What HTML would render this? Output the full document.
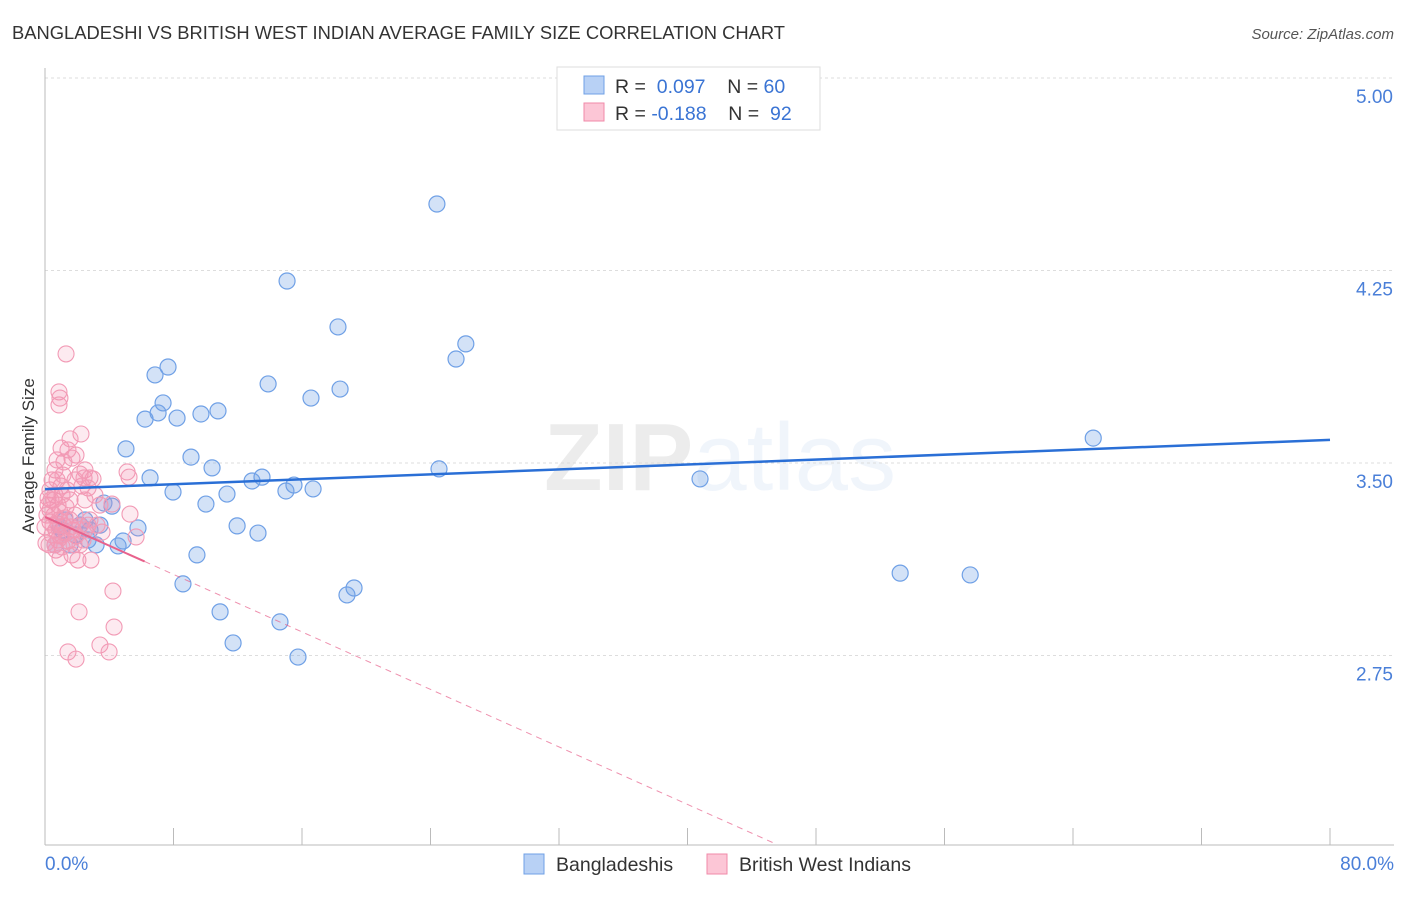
<!DOCTYPE html>
<html><head><meta charset="utf-8"><style>
body{margin:0;background:#fff;font-family:"Liberation Sans",sans-serif;}
svg text{font-family:"Liberation Sans",sans-serif;}
</style></head><body>
<svg id="chart" width="1406" height="892" xmlns="http://www.w3.org/2000/svg">
<text x="12" y="39" font-size="18.3" fill="#333" textLength="773" lengthAdjust="spacingAndGlyphs">BANGLADESHI VS BRITISH WEST INDIAN AVERAGE FAMILY SIZE CORRELATION CHART</text>
<text x="1394" y="39" font-size="15" fill="#555" text-anchor="end" font-style="italic">Source: ZipAtlas.com</text>
<text x="720" y="490" font-size="96" text-anchor="middle" fill="#000" opacity="0.07" font-family="Liberation Serif"><tspan font-weight="bold">ZIP</tspan><tspan font-family="Liberation Sans" fill="#3a7bd5">atlas</tspan></text>
<g id="grid"></g><g id="axes"></g><g id="marks"></g>
<text transform="translate(34,456) rotate(-90)" font-size="17" fill="#333" text-anchor="middle">Average Family Size</text>
<text x="45" y="870" font-size="19" fill="#4a7fd8">0.0%</text>
<text x="1394" y="870" font-size="19" fill="#4a7fd8" text-anchor="end">80.0%</text>
<g>
<rect x="557" y="67" width="263" height="63" fill="#fff" stroke="#ddd"/>
<rect x="584" y="76" width="20" height="18" fill="#b8d1f5" stroke="#6fa0e6"/>
<rect x="584" y="103" width="20" height="18" fill="#fcc6d6" stroke="#f08aa8"/>
<text x="615" y="93" font-size="19.5" fill="#333">R = <tspan fill="#3a74d4">&#160;0.097</tspan>&#160;&#160;&#160; N = <tspan fill="#3a74d4">60</tspan></text>
<text x="615" y="120" font-size="19.5" fill="#333">R = <tspan fill="#3a74d4">-0.188</tspan>&#160;&#160;&#160; N = <tspan fill="#3a74d4">&#160;92</tspan></text>
</g>
<g>
<rect x="524" y="854" width="20" height="20" fill="#b8d1f5" stroke="#6fa0e6"/>
<text x="556" y="871" font-size="19.5" fill="#333">Bangladeshis</text>
<rect x="707" y="854" width="20" height="20" fill="#fcc6d6" stroke="#f08aa8"/>
<text x="739" y="871" font-size="19.5" fill="#333">British West Indians</text>
</g>
</svg>
<script>
const yTicks=[5.00,4.25,3.50,2.75];
const yTickLabels=["5.00","4.25","3.50","2.75"];
const blueX=[24.4,15.07,18.24,26.2,25.59,7.66,6.85,13.89,18.37,16.56,7.35,7.04,10.77,9.71,8.22,6.23,5.04,9.09,10.4,24.53,6.54,13.51,12.89,15.5,15.0,16.69,7.97,11.33,10.02,3.67,4.17,40.78,65.26,53.24,57.6,5.79,11.96,13.26,3.42,2.8,1.25,0.93,1.56,3.18,4.55,4.86,9.46,8.59,19.24,18.8,10.9,14.63,11.71,15.75,2.49,1.87,0.62,2.68,2.18,1.06];
const blueY=[4.509,4.209,4.030,3.964,3.905,3.874,3.843,3.808,3.788,3.753,3.734,3.695,3.703,3.691,3.675,3.671,3.555,3.523,3.481,3.477,3.442,3.445,3.430,3.414,3.391,3.399,3.387,3.379,3.340,3.344,3.332,3.438,3.597,3.071,3.064,3.247,3.255,3.227,3.258,3.239,3.278,3.251,3.181,3.181,3.177,3.196,3.142,3.029,3.013,2.986,2.920,2.881,2.799,2.744,3.278,3.220,3.181,3.200,3.258,3.239];
const pinkX=[1.31,0.87,0.93,0.87,2.24,1.56,1.0,1.43,1.68,1.93,1.18,2.49,2.18,0.62,2.43,2.8,2.99,5.11,5.23,0.75,1.87,1.0,2.3,2.68,0.31,0.62,1.06,0.19,2.49,4.17,0.81,1.31,0.31,0.93,0.56,1.87,5.29,2.8,1.56,0.31,0.81,1.18,2.18,0,0.68,1.74,2.49,1.31,0.44,0.93,1.93,5.67,0.81,1.43,0.06,2.18,1.06,0.68,1.68,2.86,0.93,2.05,4.23,2.12,4.3,3.42,1.43,3.99,1.93,0.37,0.44,0.12,0.19,0.5,1.25,1.56,1.12,0.75,3.42,3.11,1.37,1.81,0.25,0.56,0.87,1.06,1.62,2.37,2.68,0.62,3.24,3.55];
const pinkY=[3.925,3.777,3.753,3.726,3.613,3.594,3.558,3.551,3.519,3.531,3.504,3.473,3.457,3.473,3.442,3.442,3.438,3.465,3.445,3.434,3.434,3.410,3.410,3.403,3.395,3.375,3.375,3.364,3.356,3.340,3.336,3.329,3.317,3.309,3.297,3.297,3.301,3.278,3.278,3.270,3.262,3.255,3.255,3.251,3.239,3.239,3.239,3.227,3.220,3.216,3.216,3.212,3.200,3.196,3.188,3.181,3.173,3.161,3.142,3.122,3.130,3.122,3.001,2.920,2.861,2.791,2.764,2.764,2.736,3.356,3.434,3.297,3.336,3.258,3.286,3.356,3.453,3.512,3.336,3.375,3.395,3.181,3.181,3.356,3.278,3.220,3.251,3.200,3.258,3.181,3.258,3.231];
const blueLine=[3.398,3.59];
const pinkLine=[3.29,-0.028];
const X0=45,X1=1330,Y350=463,PPV=256.7;
const xs=p=>X0+(X1-X0)*p/80;
const ys=v=>Y350-(v-3.5)*PPV;
const NS="http://www.w3.org/2000/svg";
function mk(t,a,parent){const e=document.createElementNS(NS,t);for(const k in a)e.setAttribute(k,a[k]);document.getElementById(parent).appendChild(e);return e;}
yTicks.forEach((v,i)=>{
 const g=mk('line',{x1:X0,x2:1394,y1:ys(v),y2:ys(v),stroke:'#ddd','stroke-dasharray':'3,3'},'grid');
 
 
 const t=mk('text',{x:1393,y:ys(v)+25,'font-size':19,fill:'#4a7fd8','text-anchor':'end'},'grid');
 t.textContent=yTickLabels[i];
 
 
});
const xa=mk('line',{x1:X0,x2:1394,y1:845,y2:845,stroke:'#bbb'},'axes');


const ya=mk('line',{x1:X0,x2:X0,y1:68,y2:845,stroke:'#bbb'},'axes');


for(let i=1;i<=10;i++){const tk=mk('line',{x1:xs(i*8),x2:xs(i*8),y1:828,y2:845,stroke:'#bbb'},'axes');
 
 }
blueX.forEach((x,i)=>{const c=mk('circle',{cx:xs(x),cy:ys(blueY[i]),r:8,fill:'rgba(110,160,230,0.3)',stroke:'#6fa0e6','stroke-width':1.2},'marks');
 
 });
pinkX.forEach((x,i)=>{const c=mk('circle',{cx:xs(x),cy:ys(pinkY[i]),r:8,fill:'rgba(245,150,180,0.2)',stroke:'#f29ab5','stroke-width':1.1},'marks');
 
 });
const bl=mk('line',{x1:xs(0),y1:ys(blueLine[0]),x2:xs(80),y2:ys(blueLine[1]),stroke:'#2a6fd6','stroke-width':2.5},'marks');


const pEnd=(2.02-pinkLine[0])/pinkLine[1];
const pl=mk('line',{x1:xs(0),y1:ys(pinkLine[0]),x2:xs(6.2),y2:ys(pinkLine[0]+pinkLine[1]*6.2),stroke:'#e8628c','stroke-width':2},'marks');


const pd=mk('line',{x1:xs(6.2),y1:ys(pinkLine[0]+pinkLine[1]*6.2),x2:xs(pEnd),y2:ys(pinkLine[0]+pinkLine[1]*pEnd),stroke:'#e8628c','stroke-width':1,'stroke-dasharray':'6,5',opacity:0.7},'marks');


</script>
</body></html>
